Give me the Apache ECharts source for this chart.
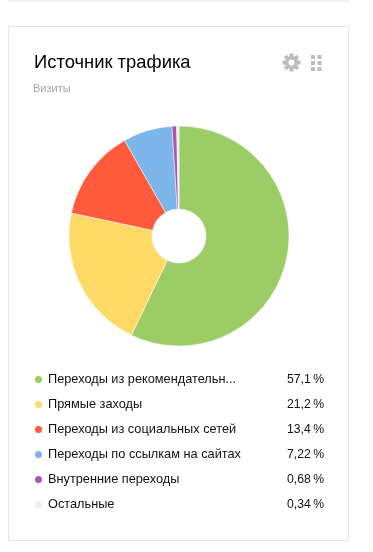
<!DOCTYPE html>
<html><head><meta charset="utf-8">
<style>html,body{margin:0;padding:0;background:#fff}#c{width:373px;height:552px}</style>
<script src="https://cdn.jsdelivr.net/npm/echarts@6/dist/echarts.min.js"></script>
</head><body><div id="c"></div>
<script>
const titleText = 'Источник трафика';
const subtitleText = 'Визиты';
const categories = ['Переходы из рекомендательн...','Прямые заходы','Переходы из социальных сетей','Переходы по ссылкам на сайтах','Внутренние переходы','Остальные'];
const values = [57.1,21.2,13.4,7.22,0.68,0.34];
const valueLabels = ['57,1\u2009%','21,2\u2009%','13,4\u2009%','7,22\u2009%','0,68\u2009%','0,34\u2009%'];
const colors = ['#9ccc65','#ffd966','#ff5a3c','#7cb6ea','#a855b5','#eeeeee'];
const font = '"Liberation Sans", Arial, sans-serif';
const chart = echarts.init(document.getElementById('c'), null, {renderer:'canvas'});
const gearTeeth = [0,45,90,135].map(a => ({
  type:'rect', x:291.5, y:62.5, rotation:a*Math.PI/180, originX:0, originY:0,
  shape:{x:-2,y:-9,width:4,height:18}, style:{fill:'#bdbdbd'}, silent:true
}));
const dots = [];
[0,1,2].forEach(r=>[0,1].forEach(c=>dots.push({
  type:'rect', shape:{x:311+c*6.5,y:55+r*6,width:4,height:4}, style:{fill:'#bdbdbd'}, silent:true
})));
chart.setOption({
  animation:false,
  color:colors,
  title:[
    {text:titleText,left:34,top:54,padding:0,textStyle:{fontFamily:font,fontSize:18.4,fontWeight:'normal',color:'#000'}},
    {text:subtitleText,left:33,top:83,padding:0,textStyle:{fontFamily:font,fontSize:11,fontWeight:'normal',color:'#a8a4a4'}}
  ],
  legend:{
    orient:'vertical',left:33,top:373,padding:0,itemWidth:9,itemHeight:9,itemGap:12,icon:'circle',
    selectedMode:false,
    formatter:n=>{const i=categories.indexOf(n);return '{n|'+n+'}{v|'+valueLabels[i]+'}';},
    textStyle:{fontFamily:font,fontSize:12.75,color:'#111',
      rich:{n:{width:232,fontFamily:font,fontSize:12.75,color:'#111',align:'left'},
            v:{width:44,fontFamily:font,fontSize:12.2,color:'#111',align:'right'}}}
  },
  graphic:[
    {type:'rect',shape:{x:8.5,y:-20,width:340,height:21},style:{fill:'#fff',stroke:'#e5e5e5',lineWidth:1},silent:true},
    {type:'rect',shape:{x:8.5,y:26.5,width:340,height:514},style:{fill:'#fff',stroke:'#e5e5e5',lineWidth:1},silent:true,z:-1},
    ...gearTeeth,
    {type:'circle',shape:{cx:291.5,cy:62.5,r:6.5},style:{fill:'#bdbdbd'},silent:true},
    {type:'circle',shape:{cx:291.5,cy:62.5,r:3},style:{fill:'#fff'},silent:true},
    ...dots
  ],
  series:[{
    type:'pie',center:[179,236],radius:[27,110],startAngle:90,clockwise:true,
    label:{show:false},labelLine:{show:false},silent:true,
    itemStyle:{borderColor:'#fff',borderWidth:0.5},
    data:categories.map((n,i)=>({name:n,value:values[i]}))
  }]
});
</script></body></html>
